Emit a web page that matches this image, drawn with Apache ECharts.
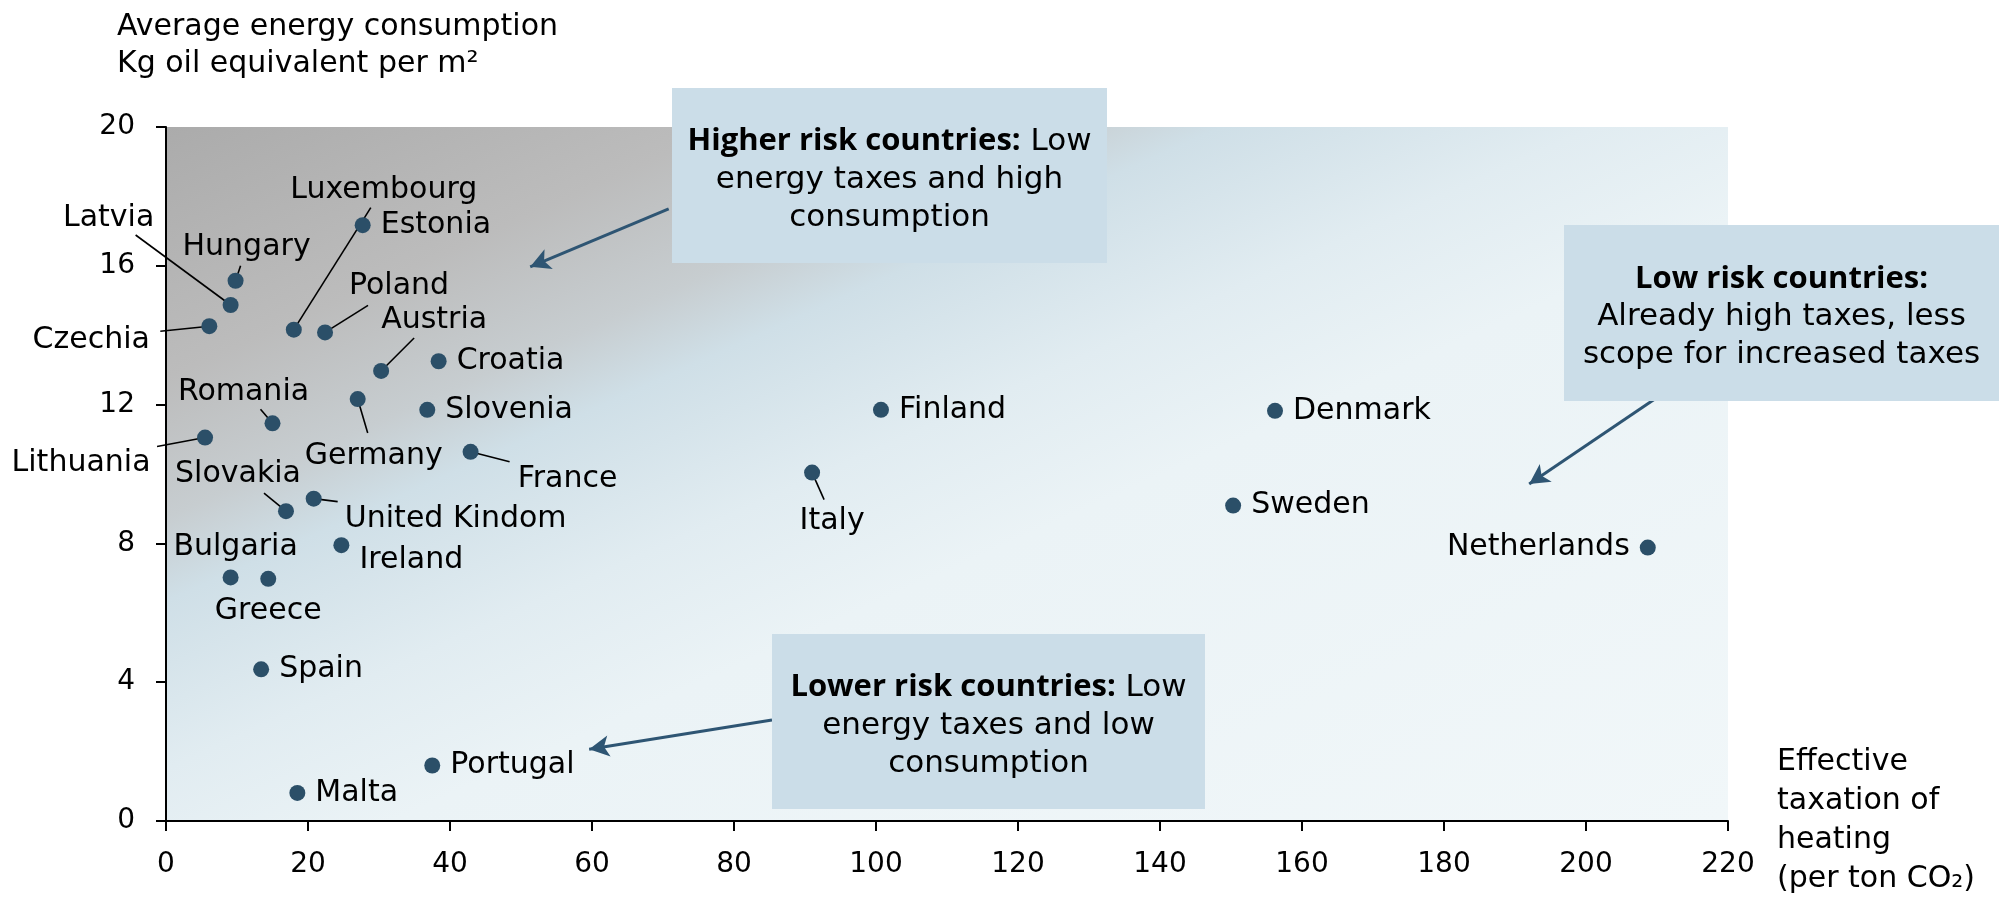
<!DOCTYPE html>
<html>
<head>
<meta charset="utf-8">
<script src="https://cdn.jsdelivr.net/npm/echarts@6/dist/echarts.min.js"></script>
<style>
  html, body { margin: 0; padding: 0; background: #fff; }
  #chart { width: 2008px; height: 898px; }
</style>
</head>
<body>
<div id="chart"></div>
<script>
// values
const countries = ['Hungary', 'Latvia', 'Czechia', 'Luxembourg', 'Poland', 'Estonia', 'Austria', 'Croatia',
  'Germany', 'Slovenia', 'Romania', 'Lithuania', 'France', 'Slovakia', 'United Kindom', 'Ireland',
  'Bulgaria', 'Greece', 'Spain', 'Portugal', 'Malta', 'Finland', 'Italy', 'Denmark', 'Sweden', 'Netherlands'];
const taxation = [9.8, 9.1, 6.1, 18.0, 22.4, 27.7, 30.3, 38.4, 27.0, 36.8, 15.0, 5.5, 42.9, 16.9, 20.8, 24.7,
  9.1, 14.4, 13.4, 37.5, 18.5, 100.7, 91.0, 156.2, 150.3, 208.7];
const consumption = [15.57, 14.87, 14.26, 14.16, 14.08, 17.17, 12.97, 13.25, 12.16, 11.85, 11.46, 11.05, 10.64,
  8.93, 9.29, 7.95, 7.02, 6.98, 4.37, 1.60, 0.81, 11.85, 10.04, 11.82, 9.09, 7.88];

// annotation arrows (data coords): from box edge to target area
const arrowFrom = [[70.8, 17.64], [209.9, 12.19], [85.35, 2.91]];
const arrowTo = [[51.3, 15.97], [192.0, 9.71], [59.6, 2.07]];

// label placement: side, or [dx, dy] in px from the dot to the label centre
const labelPlace = {
  'Hungary': [11, -34], 'Latvia': [-122, -87], 'Czechia': [-118, 14],
  'Luxembourg': [90, -139], 'Poland': [74, -46], 'Estonia': 'right',
  'Austria': [53, -51], 'Croatia': 'right', 'Germany': [16, 57], 'Slovenia': 'right',
  'Romania': [-29, -31], 'Lithuania': [-124, 26], 'France': [97, 27],
  'Slovakia': [-48, -37], 'United Kindom': [142, 21], 'Ireland': [70, 15],
  'Bulgaria': [5, -30], 'Greece': [0, 32], 'Spain': 'right', 'Portugal': 'right',
  'Malta': 'right', 'Finland': 'right', 'Italy': [20, 49], 'Denmark': 'right',
  'Sweden': 'right', 'Netherlands': 'left'
};
// leader line end, px from the dot
const leaderEnd = {
  'Hungary': [5, -15], 'Latvia': [-95, -70], 'Czechia': [-49, 5], 'Luxembourg': [77, -122],
  'Poland': [43, -27], 'Austria': [33, -33], 'Germany': [10, 34], 'Romania': [-12, -14],
  'Lithuania': [-48, 9], 'France': [39, 10], 'Slovakia': [-22, -18], 'United Kindom': [24, 3],
  'Italy': [12, 27]
};

const FONT = 'DejaVu Sans';
const DOT = '#2b4f68';
const BOX = '#cbdde8';

let chartDom = document.getElementById('chart');
let myChart = echarts.init(chartDom, null, { renderer: 'canvas' });

let seriesData = countries.map((name, i) => {
  let pl = labelPlace[name];
  return {
    name: name,
    value: [taxation[i], consumption[i]],
    label: typeof pl === 'string' ? { position: pl, distance: 10 } : { position: 'inside' }
  };
});

let box = (x, y, w, h, text) => [
  { type: 'rect', shape: { x: x, y: y, width: w, height: h }, style: { fill: BOX }, z: 10 },
  {
    type: 'text', x: x + w / 2, y: y + h / 2 + 4, z: 11,
    style: {
      text: text, align: 'center', verticalAlign: 'middle',
      font: '31px "' + FONT + '"', lineHeight: 38, fill: '#000',
      rich: {
        r: { fontSize: 31, fontFamily: FONT, lineHeight: 38 },
        b: { fontWeight: 'bold', fontSize: 31, fontFamily: 'Open Sans', lineHeight: 38 }
      }
    }
  }
];

let option = {
  animation: false,
  textStyle: { fontFamily: FONT, color: '#000' },
  title: {
    text: 'Average energy consumption\nKg oil equivalent per m²',
    left: 112, top: 4,
    textStyle: { fontFamily: FONT, fontSize: 30, fontWeight: 'normal', lineHeight: 37, color: '#000' }
  },
  grid: {
    left: 166, top: 127, right: 280, bottom: 77,
    outerBoundsMode: 'none',
    show: true, borderWidth: 0,
    backgroundColor: new echarts.graphic.LinearGradient(0, 0, 0.334, 1.673, [
      { offset: 0, color: '#ababab' },
      { offset: 0.18, color: '#bcbcbc' },
      { offset: 0.28, color: '#c7cdd0' },
      { offset: 0.34, color: '#cfdfe7' },
      { offset: 0.46, color: '#e1ecf1' },
      { offset: 0.57, color: '#ebf3f6' },
      { offset: 1, color: '#f1f7f9' }
    ])
  },
  xAxis: {
    type: 'value', min: 0, max: 220, interval: 20,
    name: 'Effective\ntaxation of\nheating\n(per ton CO₂)',
    nameLocation: 'end', nameGap: 49,
    nameTextStyle: { fontSize: 30, lineHeight: 39, align: 'left', verticalAlign: 'middle', padding: [28, 0, 0, 0], color: '#000' },
    axisLine: { lineStyle: { color: '#000', width: 2 } },
    axisTick: { inside: false, length: 10, lineStyle: { color: '#000', width: 2 } },
    axisLabel: { fontSize: 28, color: '#000', margin: 30 },
    splitLine: { show: false }
  },
  yAxis: {
    type: 'value', min: 0, max: 20, interval: 4,
    axisLine: { show: true, lineStyle: { color: '#000', width: 2 } },
    axisTick: { show: true, inside: false, length: 10, lineStyle: { color: '#000', width: 2 } },
    axisLabel: { fontSize: 28, color: '#000', margin: 31, padding: [5, 0, 0, 0] },
    splitLine: { show: false }
  },
  series: [
    {
      // leader lines from the dots to their labels
      type: 'custom',
      coordinateSystem: 'cartesian2d',
      silent: true,
      z: 1,
      data: countries.map((c, i) => [taxation[i], consumption[i], i]),
      renderItem: function (params, api) {
        let end = leaderEnd[countries[api.value(2)]];
        if (!end) return null;
        let p = api.coord([api.value(0), api.value(1)]);
        return {
          type: 'line',
          shape: { x1: p[0], y1: p[1], x2: p[0] + end[0], y2: p[1] + end[1] },
          style: { stroke: '#000', lineWidth: 1.6 }
        };
      }
    },
    {
      type: 'scatter',
      symbol: 'circle',
      symbolSize: 16,
      z: 3,
      itemStyle: { color: DOT, opacity: 1 },
      data: seriesData,
      label: { show: true, formatter: '{b}', fontSize: 30, color: '#000', fontFamily: FONT },
      labelLayout: function (p) {
        let pl = labelPlace[countries[p.dataIndex]];
        if (typeof pl === 'string') return {};
        return {
          x: p.rect.x + p.rect.width / 2 + pl[0],
          y: p.rect.y + p.rect.height / 2 + pl[1],
          align: 'center', verticalAlign: 'middle'
        };
      },
      markLine: {
        silent: true,
        symbol: ['none', 'arrow'],
        symbolSize: [16, 20],
        label: { show: false },
        lineStyle: { color: '#2e5573', width: 3, type: 'solid' },
        data: arrowFrom.map((f, i) => [{ coord: f }, { coord: arrowTo[i] }])
      }
    }
  ],
  graphic: [].concat(
    box(672, 88, 435, 175, '{b|Higher risk countries:}{r| Low}\nenergy taxes and high\nconsumption'),
    box(1564, 225, 435, 176, '{b|Low risk countries:}\nAlready high taxes, less\nscope for increased taxes'),
    box(772, 634, 433, 175, '{b|Lower risk countries:}{r| Low}\nenergy taxes and low\nconsumption')
  )
};

option && myChart.setOption(option);
</script>
</body>
</html>
